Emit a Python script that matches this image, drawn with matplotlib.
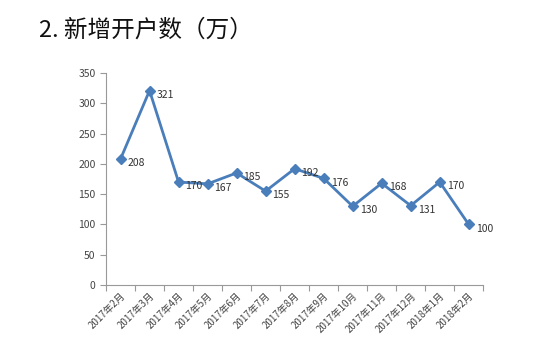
import matplotlib.pyplot as plt
import numpy as np

plt.rcParams['font.family'] = ['Noto Sans CJK SC', 'DejaVu Sans']

##### Data
months = ['2017年2月', '2017年3月', '2017年4月', '2017年5月', '2017年6月', '2017年7月',
          '2017年8月', '2017年9月', '2017年10月', '2017年11月', '2017年12月',
          '2018年1月', '2018年2月']
values = [208, 321, 170, 167, 185, 155, 192, 176, 130, 168, 131, 170, 100]

fig = plt.figure(figsize=(5.58, 3.51), dpi=100)
fig.text(0.07, 0.915, '2. 新增开户数（万）', fontsize=17, color='#111111', va='center',
         fontweight='medium')

ax = fig.add_axes([0.19, 0.188, 0.676, 0.604])
x = np.arange(len(values))
ax.plot(x, values, color='#4A7EBB', linewidth=2, marker='D', markersize=5.5)
for xi, v in zip(x, values):
    ax.annotate(str(v), (xi, v), xytext=(5, -3), textcoords='offset points',
                fontsize=7.5, color='#333333', va='center')

ax.set_xlim(-0.5, len(values) - 0.5)
ax.set_ylim(0, 350)
ax.set_yticks(np.arange(0, 351, 50))
ax.set_xticks(np.arange(-0.5, len(values), 1.0))
ax.set_xticklabels([])
ax.set_xticks(x, minor=True)
ax.set_xticklabels(months, minor=True, rotation=45, ha='right', rotation_mode='anchor',
                   fontsize=7, color='#444444')
ax.tick_params(axis='x', which='minor', length=0, pad=4)
ax.tick_params(axis='x', which='major', length=4, color='#999999', direction='out')
ax.tick_params(axis='y', length=4, color='#999999', labelsize=7.5, labelcolor='#444444')
for s in ['top', 'right']:
    ax.spines[s].set_visible(False)
for s in ['left', 'bottom']:
    ax.spines[s].set_color('#999999')

plt.savefig('out.png')
